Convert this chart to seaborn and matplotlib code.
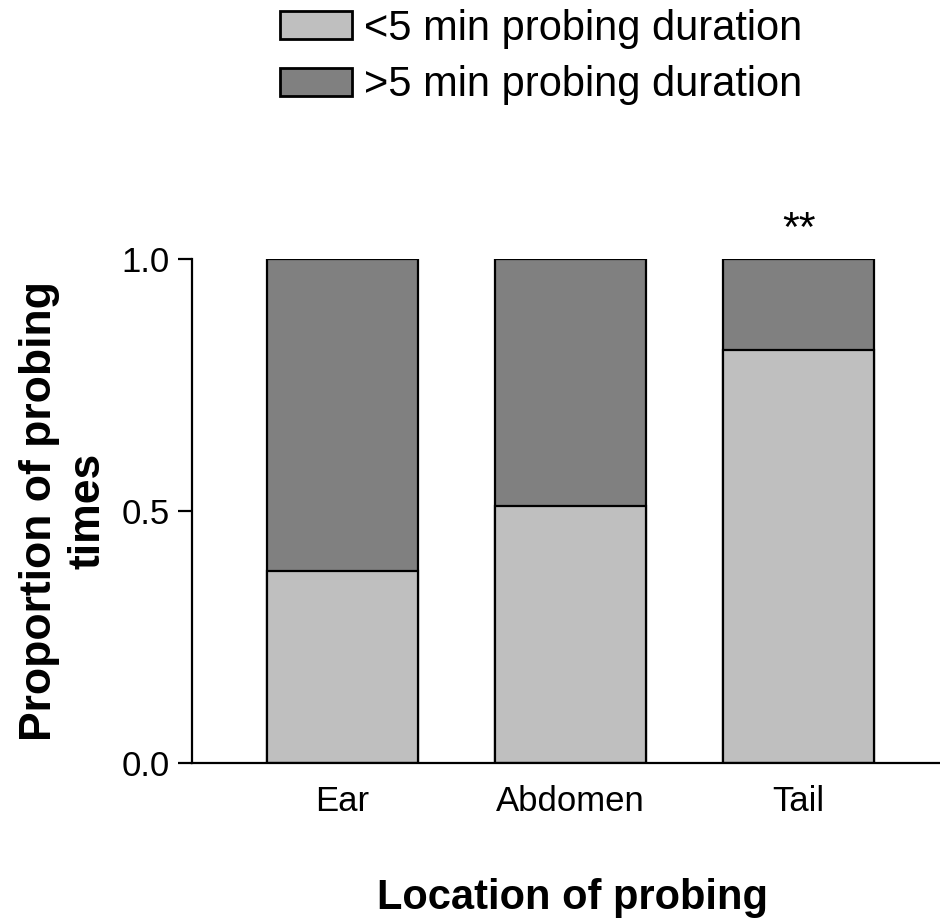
import matplotlib
matplotlib.use('agg')
import matplotlib.pyplot as plt
from matplotlib.patches import Patch
import numpy as np
import pandas as pd
import seaborn as sns

locations = ['Ear', 'Abdomen', 'Tail']
short_probe = [0.38, 0.51, 0.82]   # <5 min
long_probe = [0.62, 0.49, 0.18]    # >5 min
legend_labels = ['<5 min probing duration', '>5 min probing duration']
signif = {'Tail': '**'}

light = '#bfbfbf'
dark = '#808080'

sns.set_style('white')
plt.rcParams['font.family'] = ['Liberation Sans', 'DejaVu Sans']
plt.rcParams['text.color'] = 'black'
plt.rcParams['axes.labelcolor'] = 'black'
plt.rcParams['xtick.color'] = 'black'
plt.rcParams['ytick.color'] = 'black'

df = pd.DataFrame({'location': locations, 'short': short_probe, 'long': long_probe})
df['total'] = df['short'] + df['long']

fig = plt.figure(figsize=(9.4, 9.22), dpi=100)
ax = fig.add_axes([0.2043, 0.1725, 0.7957, 0.5466])

sns.barplot(data=df, x='location', y='total', color=dark, saturation=1,
            width=0.66, edgecolor='black', linewidth=1.6, ax=ax)
sns.barplot(data=df, x='location', y='short', color=light, saturation=1,
            width=0.66, edgecolor='black', linewidth=1.6, ax=ax)

ax.set_xlim(-0.66, 2.62)
ax.set_ylim(0, 1)
ax.set_yticks([0, 0.5, 1.0])
ax.set_yticklabels(['0.0', '0.5', '1.0'])

for sp in ['top', 'right']:
    ax.spines[sp].set_visible(False)
for sp in ['left', 'bottom']:
    ax.spines[sp].set_linewidth(1.6)
    ax.spines[sp].set_color('black')
ax.spines['left'].set_bounds(0, 1)

ax.tick_params(axis='y', length=10, width=1.6, pad=6, labelsize=25, direction='out', left=True)
ax.tick_params(axis='x', length=0, pad=16, labelsize=25)

ax.set_xlabel('Location of probing', fontsize=30, fontweight='bold')
ax.set_ylabel('Proportion of probing\ntimes', fontsize=32, fontweight='bold', linespacing=1.24)
ax.xaxis.set_label_coords(0.509, -0.228)
ax.yaxis.set_label_coords(-0.112, 0.5)

for i, loc in enumerate(locations):
    if loc in signif:
        ax.text(i, 1.035, signif[loc], ha='center', va='baseline', fontsize=31, clip_on=False)

handles = [Patch(facecolor=light, edgecolor='black', linewidth=2),
           Patch(facecolor=dark, edgecolor='black', linewidth=2)]
fig.legend(handles, legend_labels, loc='upper left', bbox_to_anchor=(280 / 940, 1 - 9 / 922),
           frameon=False, fontsize=30, handlelength=1.73, handleheight=0.65,
           handletextpad=0.28, labelspacing=0.39, borderpad=0, borderaxespad=0)

fig.savefig('out.png', dpi=100)
